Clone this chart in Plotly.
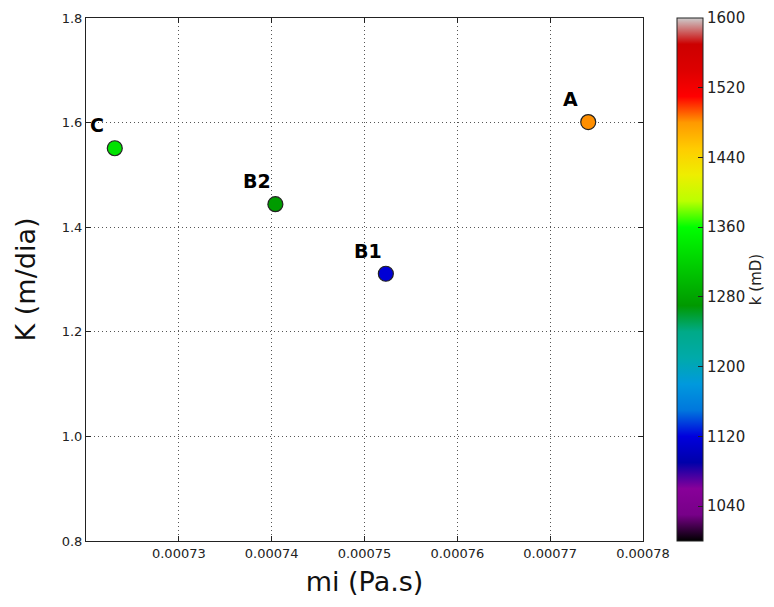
import plotly.graph_objects as go

# Data
labels = ["C", "B2", "B1", "A"]
mi = [0.0007231, 0.0007404, 0.0007523, 0.0007741]
K = [1.551, 1.444, 1.311, 1.601]
k_mD = [1335, 1272, 1115, 1482]

x_ticks = [0.00073, 0.00074, 0.00075, 0.00076, 0.00077, 0.00078]
x_ticktext = ["0.00073", "0.00074", "0.00075", "0.00076", "0.00077", "0.00078"]
y_ticks = [0.8, 1.0, 1.2, 1.4, 1.6, 1.8]
cb_ticks = [1040, 1120, 1200, 1280, 1360, 1440, 1520, 1600]

# nipy_spectral colormap
_r = [0.0, 0.4667, 0.5333, 0.0, 0.0, 0.0, 0.0, 0.0, 0.0, 0.0, 0.0, 0.0, 0.0, 0.7333, 0.9333, 1.0, 1.0, 1.0, 0.8667, 0.80, 0.80]
_g = [0.0, 0.0, 0.0, 0.0, 0.0, 0.4667, 0.6, 0.6667, 0.6667, 0.6, 0.7333, 0.8667, 1.0, 1.0, 0.9333, 0.8, 0.6, 0.0, 0.0, 0.0, 0.80]
_b = [0.0, 0.5333, 0.6, 0.6667, 0.8667, 0.8667, 0.8667, 0.6667, 0.5333, 0.0, 0.0, 0.0, 0.0, 0.0, 0.0, 0.0, 0.0, 0.0, 0.0, 0.0, 0.80]
colorscale = [[i * 0.05, "rgb(%d,%d,%d)" % (round(r * 255), round(g * 255), round(b * 255))]
              for i, (r, g, b) in enumerate(zip(_r, _g, _b))]

fig = go.Figure()
fig.add_trace(go.Scatter(
    x=mi, y=K, mode="markers",
    marker=dict(
        size=15, color=k_mD, colorscale=colorscale, cmin=1000, cmax=1600,
        line=dict(color="#222222", width=1.2),
        colorbar=dict(
            title=dict(text="k (mD)", side="right", font=dict(size=15, color="#222")),
            tickvals=cb_ticks, ticks="inside", ticklen=5, tickcolor="#222",
            tickprefix="\u00a0",
            tickfont=dict(size=15, color="#222"),
            thickness=26, len=1, lenmode="fraction", y=0.5, yanchor="middle",
            x=1.061, xanchor="left", xpad=0, ypad=0,
            outlinecolor="#222", outlinewidth=1,
        ),
    ),
    showlegend=False,
))

for lab, xv, yv in zip(labels, mi, K):
    fig.add_annotation(x=xv, y=yv, text="<b>%s</b>" % lab, showarrow=False,
                       xshift=-18, yshift=23,
                       font=dict(size=19, color="black", family="DejaVu Sans"))

axis_common = dict(
    showline=True, linecolor="#222", linewidth=1, mirror="allticks",
    ticks="inside", ticklen=5, tickcolor="#222",
    showgrid=True, gridcolor="#555555", griddash="1px,3px", gridwidth=1,
    zeroline=False, tickfont=dict(size=13, color="#222"),
)

fig.update_xaxes(range=[0.00072, 0.00078], tickvals=x_ticks, ticktext=x_ticktext,
                 title=dict(text="mi (Pa.s)", font=dict(size=27, color="#111"), standoff=12),
                 **axis_common)
fig.update_yaxes(range=[0.8, 1.8], tickvals=y_ticks, tickformat=".1f",
                 title=dict(text="K (m/dia)", font=dict(size=27, color="#111"), standoff=18),
                 **axis_common)

fig.update_layout(
    width=774, height=607,
    margin=dict(l=78, r=139, t=10, b=74, autoexpand=False),
    paper_bgcolor="white", plot_bgcolor="white",
    font=dict(family="DejaVu Sans"),
)

fig.write_html("out.html")
